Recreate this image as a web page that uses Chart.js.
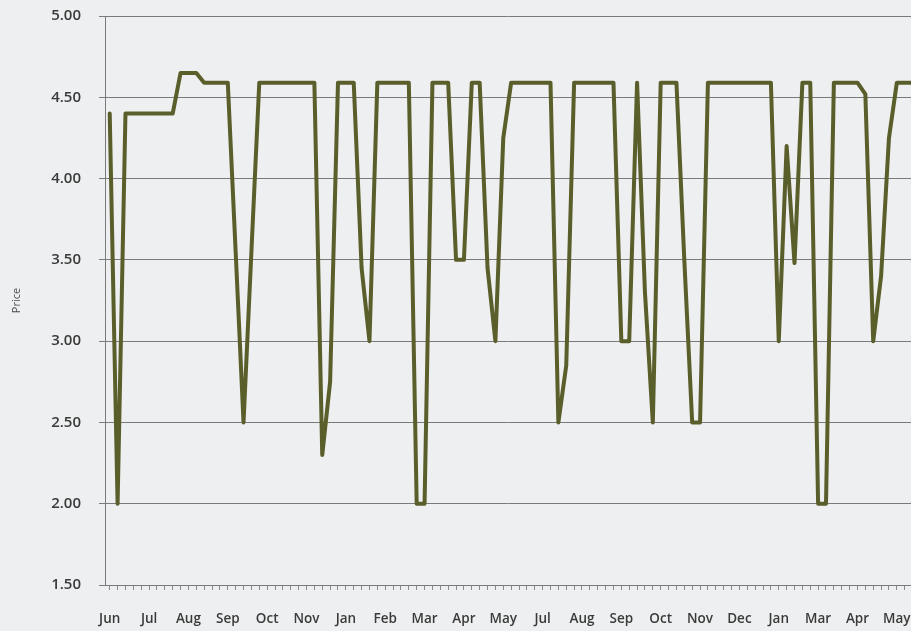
<!DOCTYPE html>
<html>
<head>
<meta charset="utf-8">
<script src="https://cdn.jsdelivr.net/npm/chart.js@4/dist/chart.umd.min.js"></script>
<style>
  html, body { margin: 0; padding: 0; background: #eeeff0; }
  #wrap { width: 911px; height: 631px; position: relative; }
  canvas { display: block; }
</style>
</head>
<body>
<div id="wrap"><canvas id="priceChart" width="911" height="631"></canvas></div>
<script>
// Month names shown under the axis, one for every five weekly observations
const monthLabels = ['Jun', 'Jul', 'Aug', 'Sep', 'Oct', 'Nov', 'Jan', 'Feb', 'Mar', 'Apr', 'May',
                     'Jul', 'Aug', 'Sep', 'Oct', 'Nov', 'Dec', 'Jan', 'Mar', 'Apr', 'May'];
const weeksPerLabel = 5;

// Weekly price observations
const prices = [
  4.40, 2.00, 4.40, 4.40, 4.40, 4.40, 4.40, 4.40, 4.40, 4.65,
  4.65, 4.65, 4.59, 4.59, 4.59, 4.59, 3.55, 2.50, 3.55, 4.59,
  4.59, 4.59, 4.59, 4.59, 4.59, 4.59, 4.59, 2.30, 2.75, 4.59,
  4.59, 4.59, 3.45, 3.00, 4.59, 4.59, 4.59, 4.59, 4.59, 2.00,
  2.00, 4.59, 4.59, 4.59, 3.50, 3.50, 4.59, 4.59, 3.45, 3.00,
  4.25, 4.59, 4.59, 4.59, 4.59, 4.59, 4.59, 2.50, 2.85, 4.59,
  4.59, 4.59, 4.59, 4.59, 4.59, 3.00, 3.00, 4.59, 3.30, 2.50,
  4.59, 4.59, 4.59, 3.50, 2.50, 2.50, 4.59, 4.59, 4.59, 4.59,
  4.59, 4.59, 4.59, 4.59, 4.59, 3.00, 4.20, 3.48, 4.59, 4.59,
  2.00, 2.00, 4.59, 4.59, 4.59, 4.59, 4.52, 3.00, 3.40, 4.25,
  4.59, 4.59, 4.59
];

// Value axis
const yMin = 1.5, yMax = 5.0, yStep = 0.5;

const points = prices.map((v, i) => ({ x: i, y: v }));

new Chart(document.getElementById('priceChart'), {
  type: 'line',
  data: {
    datasets: [{
      label: 'Price',
      data: points,
      borderColor: '#5a5e2a',
      borderWidth: 4,
      pointRadius: 0,
      tension: 0,
      borderJoinStyle: 'round',
      borderCapStyle: 'round'
    }]
  },
  options: {
    responsive: false,
    animation: false,
    layout: { padding: { top: 16, left: 0, right: 0, bottom: 0 } },
    plugins: { legend: { display: false }, tooltip: { enabled: false } },
    scales: {
      x: {
        type: 'linear',
        min: -0.6,
        max: 101.8,
        afterFit: s => { s.height = 46; s.paddingLeft = 0; s.paddingRight = 0; },
        ticks: {
          stepSize: 1,
          includeBounds: false,
          autoSkip: false,
          maxRotation: 0,
          minRotation: 0,
          padding: 21,
          color: '#3a3a3a',
          font: { family: 'Open Sans', size: 13.5, weight: '600' },
          callback: v => (Number.isInteger(v) && v % weeksPerLabel === 0) ? (monthLabels[v / weeksPerLabel] || '') : ''
        },
        grid: { drawOnChartArea: false, drawTicks: true, tickLength: 5, color: '#8a8a8a' },
        border: { display: true, color: '#7a7a7a', width: 1 }
      },
      y: {
        min: yMin,
        max: yMax,
        afterFit: s => { s.width = 105; s.paddingTop = 0; s.paddingBottom = 0; },
        ticks: {
          stepSize: yStep,
          padding: 18,
          color: '#3a3a3a',
          font: { family: 'Open Sans', size: 15, weight: '600' },
          callback: v => Number(v).toFixed(2)
        },
        grid: { color: '#7a7a7a', lineWidth: 1, tickLength: 6 },
        border: { display: true, color: '#7a7a7a', width: 1 },
        title: {
          display: true,
          text: 'Price',
          color: '#4a4a4a',
          font: { family: 'Open Sans', size: 11 },
          padding: { top: 10, bottom: 0 }
        }
      }
    }
  }
});
</script>
</body>
</html>
